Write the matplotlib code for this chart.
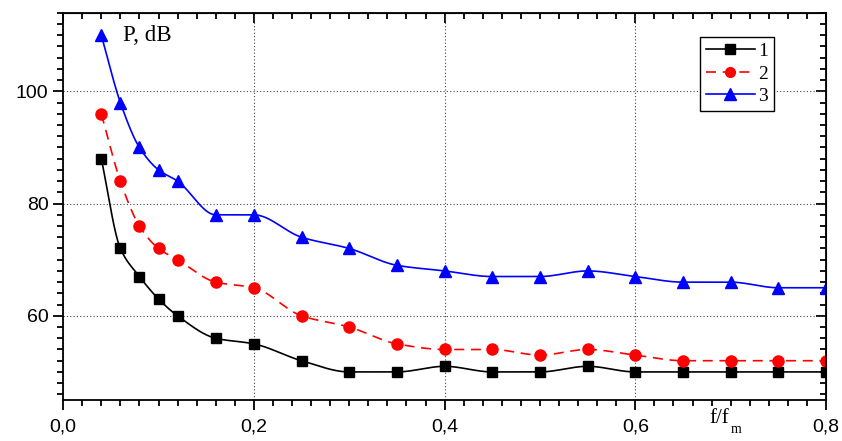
#!/usr/bin/env python3
# P(f/f_m) for three cases, Origin-style plot with smooth lines.
import numpy as np
import matplotlib

matplotlib.use("Agg")
import matplotlib.pyplot as plt
from matplotlib.ticker import MultipleLocator, FixedLocator, FuncFormatter

X = [0.04, 0.06, 0.08, 0.10, 0.12, 0.16, 0.20, 0.25, 0.30, 0.35,
     0.40, 0.45, 0.50, 0.55, 0.60, 0.65, 0.70, 0.75, 0.80]
P1 = [88, 72, 67, 63, 60, 56, 55, 52, 50, 50, 51, 50, 50, 51, 50, 50, 50, 50, 50]
P2 = [96, 84, 76, 72, 70, 66, 65, 60, 58, 55, 54, 54, 53, 54, 53, 52, 52, 52, 52]
P3 = [110, 98, 90, 86, 84, 78, 78, 74, 72, 69, 68, 67, 67, 68, 67, 66, 66, 65, 65]
LABELS = ["1", "2", "3"]

SERIES_STYLE = [
    {"color": "black", "marker": "s", "ms": 7.5, "ls": "-"},
    {"color": "red", "marker": "o", "ms": 8, "ls": (0, (6, 4))},
    {"color": "blue", "marker": "^", "ms": 9, "ls": "-"},
]


def pchip_line(x, y, n=400):
    """Monotone cubic (Fritsch-Carlson) through the points, only for the drawn line."""
    x = np.asarray(x, float)
    y = np.asarray(y, float)
    h = np.diff(x)
    d = np.diff(y) / h
    m = np.zeros_like(y)
    for i in range(1, len(x) - 1):
        if d[i - 1] * d[i] > 0:
            w1 = 2 * h[i] + h[i - 1]
            w2 = h[i] + 2 * h[i - 1]
            m[i] = (w1 + w2) / (w1 / d[i - 1] + w2 / d[i])
    m[0] = d[0]
    m[-1] = d[-1]
    xs = np.linspace(x[0], x[-1], n)
    idx = np.clip(np.searchsorted(x, xs) - 1, 0, len(x) - 2)
    hh = h[idx]
    t = (xs - x[idx]) / hh
    h00 = 2 * t ** 3 - 3 * t ** 2 + 1
    h10 = t ** 3 - 2 * t ** 2 + t
    h01 = -2 * t ** 3 + 3 * t ** 2
    h11 = t ** 3 - t ** 2
    ys = h00 * y[idx] + h10 * hh * m[idx] + h01 * y[idx + 1] + h11 * hh * m[idx + 1]
    return xs, ys


fig = plt.figure(figsize=(8.42, 4.41), dpi=100)
ax = fig.add_axes([0.075, 0.093, 0.906, 0.878])

for ys, lab, st in zip([P1, P2, P3], LABELS, SERIES_STYLE):
    sx, sy = pchip_line(X, ys)
    ax.plot(sx, sy, color=st["color"], ls=st["ls"], lw=1.2)
    ax.plot(X, ys, color=st["color"], ls="none", marker=st["marker"], ms=st["ms"])
    ax.plot([], [], color=st["color"], ls=st["ls"], lw=1.2,
            marker=st["marker"], ms=st["ms"] - 1, label=lab)

ax.set_xlim(0, 0.8)
ax.set_ylim(45, 114)
ax.xaxis.set_major_locator(MultipleLocator(0.2))
ax.xaxis.set_minor_locator(MultipleLocator(0.02))
ax.yaxis.set_major_locator(FixedLocator([60, 80, 100]))
ax.yaxis.set_minor_locator(MultipleLocator(2))
ax.xaxis.set_major_formatter(FuncFormatter(lambda v, p: f"{v:.1f}".replace(".", ",")))
ax.yaxis.set_major_formatter(FuncFormatter(lambda v, p: f"{v:.0f}"))

ax.grid(which="major", ls=(0, (1, 2)), lw=0.8, color="#444444")
for sp in ax.spines.values():
    sp.set_linewidth(1.3)

ax.tick_params(which="both", direction="out", width=1.3, top=False, right=False,
               labelsize=14, labelfontfamily="Liberation Sans")
ax.tick_params(which="major", length=7)
ax.tick_params(which="minor", length=4)
ax.tick_params(axis="x", pad=6)

# inward ticks on top and right, like the original
axt = ax.secondary_xaxis("top")
axt.xaxis.set_major_locator(MultipleLocator(0.2))
axt.xaxis.set_minor_locator(MultipleLocator(0.02))
axt.tick_params(which="both", direction="in", width=1.3, labeltop=False)
axt.tick_params(which="major", length=7)
axt.tick_params(which="minor", length=4)
axr = ax.secondary_yaxis("right")
axr.yaxis.set_major_locator(MultipleLocator(20))
axr.yaxis.set_minor_locator(MultipleLocator(2))
axr.tick_params(which="both", direction="in", width=1.3, labelright=False)
axr.tick_params(which="major", length=7)
axr.tick_params(which="minor", length=4)

ax.text(0.0625, 108.9, "P, dB", fontsize=16.5, family="Liberation Serif",
        va="baseline", ha="left")
xt = ax.get_xaxis_transform()
ax.text(0.698, -0.059, "f/f", fontsize=15, family="Liberation Serif",
        transform=xt, ha="right", va="baseline")
ax.text(0.7005, -0.085, "m", fontsize=10, family="Liberation Serif",
        transform=xt, ha="left", va="baseline")

leg = ax.legend(loc="upper left", bbox_to_anchor=(0.835, 0.938), fancybox=False,
                edgecolor="black", framealpha=1, handlelength=2.5, handletextpad=0.2,
                borderpad=0.3, labelspacing=0.25, borderaxespad=0,
                prop={"family": "Liberation Serif", "size": 14})
leg.get_frame().set_linewidth(1.0)
leg._legend_box.sep = 0

fig.savefig("out.png", dpi=100)
